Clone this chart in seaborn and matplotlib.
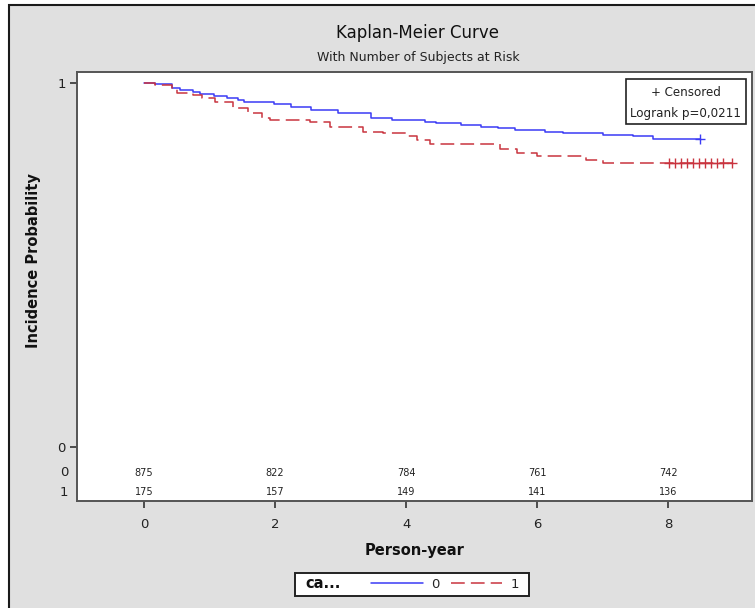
import numpy as np
import pandas as pd
import seaborn as sns
import matplotlib.pyplot as plt
from matplotlib.patches import Rectangle
from matplotlib.lines import Line2D

# KM estimates (step changes)
time_0 = [0, 0.17, 0.42, 0.55, 0.75, 0.86, 1.07, 1.27, 1.43, 1.53, 1.99, 2.24, 2.55, 2.96,
          3.47, 3.78, 4.29, 4.45, 4.67, 4.84, 5.15, 5.40, 5.66, 6.12, 6.40, 7.00, 7.47, 7.77, 8.49]
surv_0 = [1.0, 0.997, 0.985, 0.981, 0.976, 0.970, 0.965, 0.958, 0.953, 0.947, 0.942, 0.935, 0.927, 0.917,
          0.905, 0.898, 0.894, 0.891, 0.889, 0.885, 0.880, 0.876, 0.871, 0.866, 0.862, 0.857, 0.853, 0.846, 0.846]

time_1 = [0, 0.17, 0.42, 0.50, 0.75, 0.88, 1.08, 1.36, 1.59, 1.80, 1.92, 2.53, 2.84, 3.35,
          3.65, 4.01, 4.16, 4.37, 5.43, 5.70, 6.00, 6.75, 7.00, 8.98]
surv_1 = [1.0, 0.995, 0.985, 0.973, 0.968, 0.958, 0.947, 0.930, 0.917, 0.903, 0.897, 0.892, 0.878, 0.866,
          0.862, 0.853, 0.842, 0.832, 0.818, 0.808, 0.800, 0.787, 0.779, 0.779]

# censored observations
cens_time_0 = [8.49]
cens_surv_0 = [0.846]
cens_time_1 = [8.01, 8.10, 8.19, 8.29, 8.38, 8.47, 8.56, 8.65, 8.74, 8.84, 8.97]
cens_surv_1 = [0.779] * len(cens_time_1)

# number at risk table
risk_times = [0, 2, 4, 6, 8]
at_risk_0 = [875, 822, 784, 761, 742]
at_risk_1 = [175, 157, 149, 141, 136]

groups = ['0', '1']
colors = {'0': '#3b3bf5', '1': '#c9343f'}

km = pd.concat([
    pd.DataFrame({'time': time_0, 'surv': surv_0, 'ca': '0'}),
    pd.DataFrame({'time': time_1, 'surv': surv_1, 'ca': '1'}),
])
cens = pd.concat([
    pd.DataFrame({'time': cens_time_0, 'surv': cens_surv_0, 'ca': '0'}),
    pd.DataFrame({'time': cens_time_1, 'surv': cens_surv_1, 'ca': '1'}),
])

sns.set_theme(style='white')
plt.rcParams['font.family'] = ['DejaVu Sans']

fig = plt.figure(figsize=(7.55, 6.08), dpi=100, facecolor='white')
# grey panel with dark frame
fig.add_artist(Rectangle((9 / 755, -0.02), 1.1, 1.02 - 5 / 608, transform=fig.transFigure,
                         facecolor='#e0e0e0', edgecolor='#1a1a1a', linewidth=1.5, zorder=0))

ax = fig.add_axes([77 / 755, 1 - 501 / 608, (752 - 77) / 755, (501 - 72) / 608])
ax.set_facecolor('white')

sns.lineplot(data=km, x='time', y='surv', hue='ca', style='ca', hue_order=groups,
             palette=colors, dashes={'0': '', '1': (9, 4)}, drawstyle='steps-post',
             estimator=None, linewidth=1.1, legend=False, ax=ax)
sns.scatterplot(data=cens, x='time', y='surv', hue='ca', hue_order=groups, palette=colors,
                marker='+', s=50, linewidth=1.0, legend=False, ax=ax)

ax.set_xlim(-1.023, 9.28)
ax.set_ylim(-0.148, 1.030)
ax.set_xticks([0, 2, 4, 6, 8])
ax.set_yticks([0, 1])
ax.set_xticklabels(['0', '2', '4', '6', '8'])
ax.set_yticklabels(['0', '1'])
ax.tick_params(axis='both', direction='out', length=5, width=1.2, color='#333333',
               labelsize=9.5, labelcolor='#222222', left=True, bottom=True)
ax.tick_params(axis='x', pad=7)
ax.tick_params(axis='y', pad=3)
for sp in ax.spines.values():
    sp.set_color('#555555')
    sp.set_linewidth(1.4)

ax.set_xlabel('Person-year', fontsize=10.5, fontweight='bold', color='#111111')
ax.set_ylabel('Incidence Probability', fontsize=10.5, fontweight='bold', color='#111111')
ax.xaxis.set_label_coords((415 - 77) / 675, -(550 - 501) / 429)
ax.xaxis.label.set_va('center')
ax.yaxis.set_label_coords(-0.054, 0.56)

# at-risk numbers inside the plot
for t, n0, n1 in zip(risk_times, at_risk_0, at_risk_1):
    ax.text(t, -0.071, str(n0), ha='center', va='center', fontsize=7, color='#222222')
    ax.text(t, -0.124, str(n1), ha='center', va='center', fontsize=7, color='#222222')
tr = ax.get_yaxis_transform()
ax.text(-0.013, -0.071, '0', transform=tr, ha='right', va='center', fontsize=9.5, color='#222222')
ax.text(-0.013, -0.124, '1', transform=tr, ha='right', va='center', fontsize=9.5, color='#222222')

# censored / logrank box
ax.add_patch(Rectangle(((626 - 77) / 675, 1 - (124 - 72) / 429), 120 / 675, 45 / 429,
                       transform=ax.transAxes, facecolor='white', edgecolor='#222222', linewidth=1.2))
ax.text((686 - 77) / 675, 1 - (92 - 72) / 429, '+ Censored', transform=ax.transAxes,
        ha='center', va='center', fontsize=8.6, color='#222222')
ax.text((686 - 77) / 675, 1 - (114 - 72) / 429, 'Logrank p=0,0211', transform=ax.transAxes,
        ha='center', va='center', fontsize=8.6, color='#222222')

# titles
fig.text(418 / 755, 1 - 33 / 608, 'Kaplan-Meier Curve', ha='center', va='center',
         fontsize=12, color='#111111')
fig.text(418 / 755, 1 - 57 / 608, 'With Number of Subjects at Risk', ha='center', va='center',
         fontsize=9, color='#222222')

# bottom legend
fig.add_artist(Rectangle((295 / 755, 1 - 596 / 608), 234 / 755, 23 / 608, transform=fig.transFigure,
                         facecolor='white', edgecolor='#222222', linewidth=1.4))
fig.text(305 / 755, 1 - 584 / 608, 'ca...', ha='left', va='center', fontsize=10.5,
         fontweight='bold', color='#111111')
handles = [Line2D([], [], color=colors['0'], linewidth=1.1),
           Line2D([], [], color=colors['1'], linewidth=1.1, dashes=(9, 4))]
fig.legend(handles, groups, ncol=2, frameon=False, fontsize=9.5, handlelength=3.9,
           handletextpad=0.6, columnspacing=0.9, loc='center left',
           bbox_to_anchor=(366 / 755, 1 - 584 / 608), borderaxespad=0)

fig.savefig('out.png', dpi=100, facecolor=fig.get_facecolor())
